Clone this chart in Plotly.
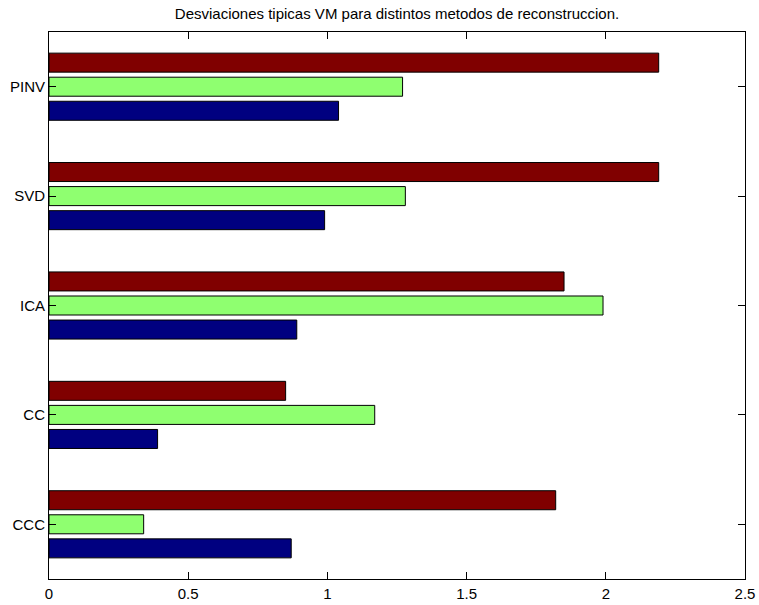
import plotly.graph_objects as go

# Reconstruction methods (bottom to top)
methods = ["CCC", "CC", "ICA", "SVD", "PINV"]

# Standard deviations per method for the three series
serie_1 = [0.87, 0.39, 0.89, 0.99, 1.04]   # navy
serie_2 = [0.34, 1.17, 1.99, 1.28, 1.27]   # light green
serie_3 = [1.82, 0.85, 1.85, 2.19, 2.19]   # dark red

x_ticks = [0, 0.5, 1, 1.5, 2, 2.5]
x_ticktext = ["0", "0.5", "1", "1.5", "2", "2.5"]

colors = ["#000080", "#8FFF70", "#800000"]

fig = go.Figure()
for vals, col in zip([serie_1, serie_2, serie_3], colors):
    fig.add_trace(go.Bar(
        x=vals, y=methods, orientation="h",
        marker=dict(color=col, line=dict(color="black", width=1)),
        showlegend=False,
    ))

font_family = "Liberation Sans, Arial, sans-serif"

fig.update_layout(
    width=759, height=605,
    margin=dict(l=49, r=14, t=32, b=26),
    paper_bgcolor="white", plot_bgcolor="white",
    barmode="group", bargap=0.34, bargroupgap=0.21,
    title=dict(
        text="Desviaciones tipicas VM para distintos metodos de reconstruccion.",
        x=(49 + 745) / 2 / 759, xanchor="center",
        y=1 - 14 / 605, yanchor="middle",
        font=dict(family=font_family, size=15, color="black"),
    ),
    font=dict(family=font_family, size=15, color="black"),
)

fig.update_xaxes(
    range=[0, 2.5], tickvals=x_ticks, ticktext=x_ticktext,
    showgrid=False, zeroline=False, automargin=False,
    showline=True, linecolor="black", linewidth=1, mirror="allticks",
    ticks="inside", ticklen=7, tickcolor="black",
    tickfont=dict(size=15, color="black"), ticklabelstandoff=1,
)
fig.update_yaxes(
    type="category", categoryorder="array", categoryarray=methods,
    range=[-0.5, 4.5], automargin=False,
    showgrid=False, zeroline=False,
    showline=True, linecolor="black", linewidth=1, mirror="allticks",
    ticks="inside", ticklen=7, tickcolor="black",
    tickfont=dict(size=15, color="black"),
)

fig.write_html("out.html")
